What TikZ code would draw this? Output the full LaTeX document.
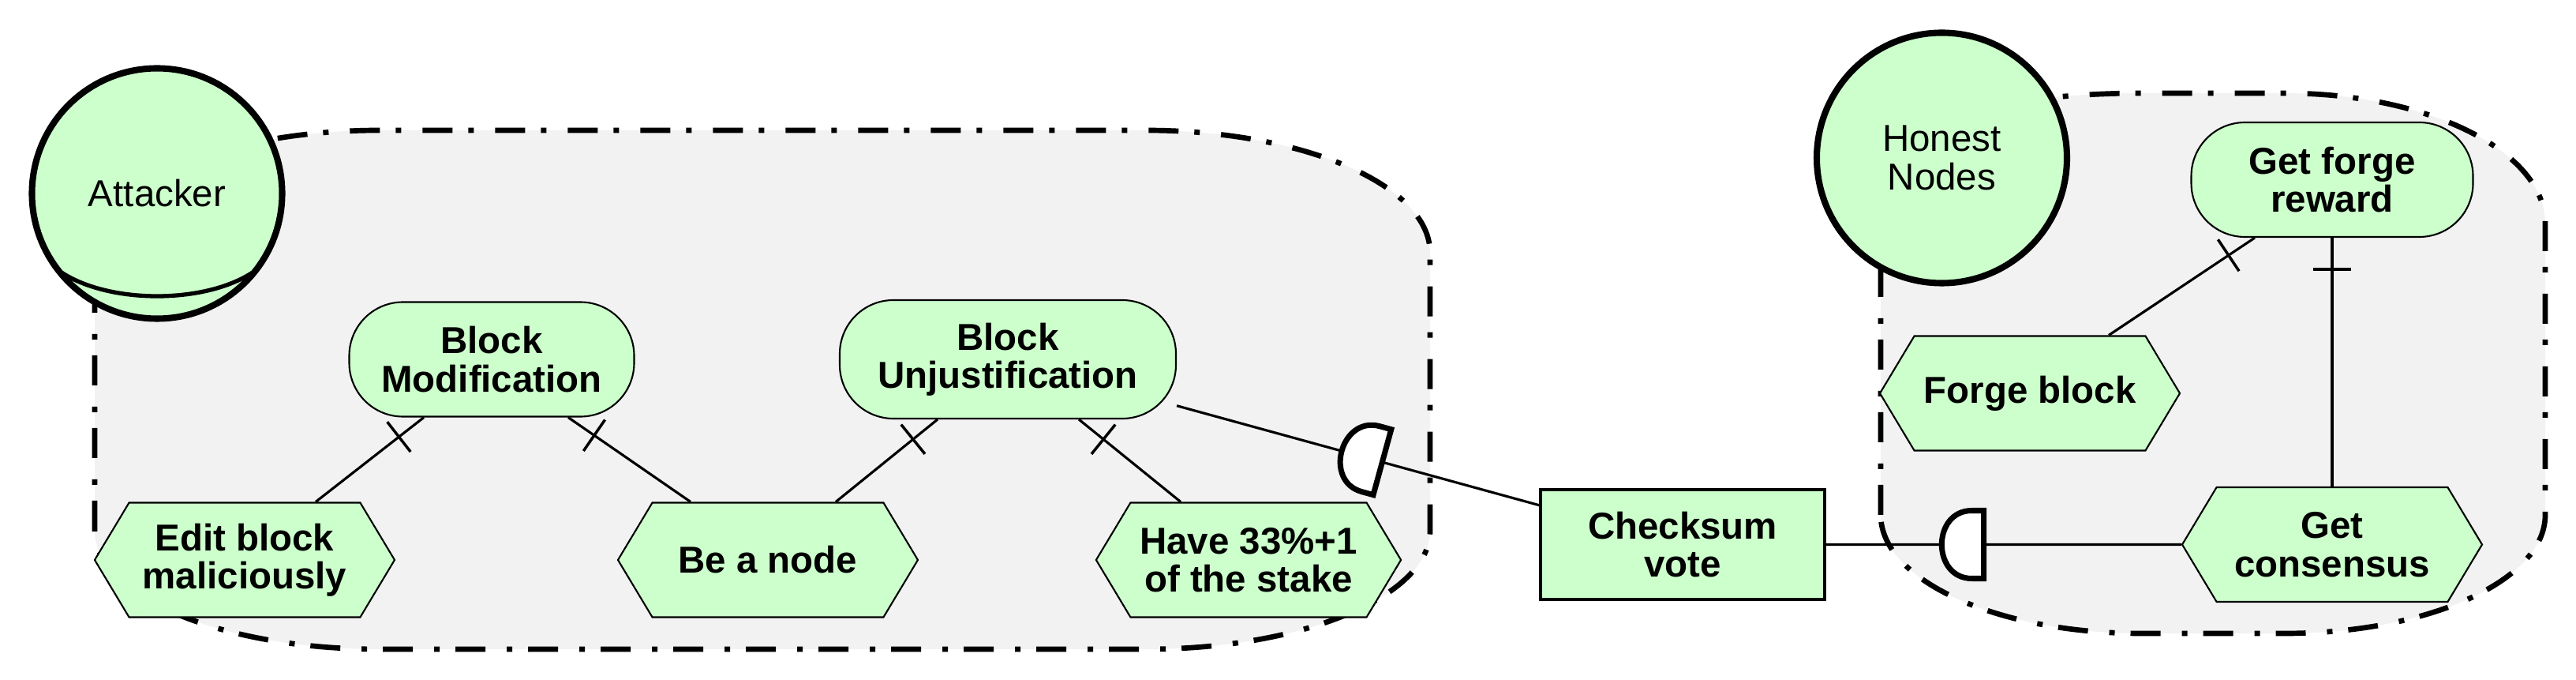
\documentclass[tikz,border=0pt]{standalone}
\usepackage{fontspec}
\setmainfont{Liberation Sans}
\usetikzlibrary{shapes.symbols, decorations.markings}

\definecolor{goalgreen}{RGB}{204,255,204}
\definecolor{zonegray}{RGB}{242,242,242}

\begin{document}
\begin{tikzpicture}[node distance=2.54cm]
\useasboundingbox (0,0) rectangle (32.64,8.6);

% Define block styles
\tikzstyle{goal} = [rectangle, draw, line width=0.6pt, fill=goalgreen, rounded corners=0.68cm, text centered, align=center, font=\bfseries\fontsize{13.5}{13.8}\selectfont, minimum height=1.45cm]
\tikzstyle{task} = [signal, signal to=east and west, signal pointer angle=118, draw, line width=0.6pt, fill=goalgreen, text centered, align=center, font=\bfseries\fontsize{13.5}{13.8}\selectfont, minimum width=3.8cm, minimum height=1.45cm]
\tikzstyle{vote} = [rectangle, draw, line width=0.9pt, fill=goalgreen, text centered, align=center, font=\bfseries\fontsize{13.5}{13.8}\selectfont, minimum width=3.6cm, minimum height=1.39cm]
\tikzstyle{agent} = [circle, draw, line width=2.3pt, fill=goalgreen, align=center, font=\fontsize{13.5}{13.8}\selectfont, minimum size=3.17cm]
\tikzstyle{zone} = [fill=zonegray, line width=1.9pt, dash pattern=on 0.38cm off 0.2cm on 0.07cm off 0.27cm]
\tikzstyle{link} = [line width=0.9pt]
\tikzstyle{refine} = [link, decoration={markings, mark=at position 0.4cm with {\draw[line width=1pt] (0,-0.24) -- (0,0.24);}}, postaction={decorate}]
\tikzset{andlink/.style={link, decoration={markings, mark=at position #1 with {\draw[line width=2pt, fill=white] (0,-0.43) -- (0,0.43) -- (-0.15,0.43) .. controls (-0.66,0.43) and (-0.66,-0.43) .. (-0.15,-0.43) -- cycle;}}, postaction={decorate}}}

% Boundaries
\draw[zone] (1.2,1.88) -- (1.2,5.4) arc[start angle=180, end angle=90, x radius=3.6, y radius=1.55] -- (14.52,6.95) arc[start angle=90, end angle=0, x radius=3.6, y radius=1.55] -- (18.12,1.88) arc[start angle=0, end angle=-90, x radius=3.6, y radius=1.5] -- (4.8,0.38) arc[start angle=270, end angle=180, x radius=3.6, y radius=1.5] -- cycle;
\draw[zone] (23.83,2.08) -- (23.83,6.52) arc[start angle=180, end angle=90, x radius=3.3, y radius=0.9] -- (28.95,7.42) arc[start angle=90, end angle=0, x radius=3.3, y radius=1.65] -- (32.25,2.08) arc[start angle=0, end angle=-90, x radius=3.3, y radius=1.5] -- (27.13,0.58) arc[start angle=270, end angle=180, x radius=3.3, y radius=1.5] -- cycle;

% Nodes
\node (bm) [goal, minimum width=3.61cm] at (6.23,4.05) {Block\\Modification};
\node (edit) [task, below of=bm, xshift=-3.13cm] {Edit block\\maliciously};
\node (bnode) [task, below of=bm, xshift=3.5cm] {Be a node};
\node (bu) [goal, minimum width=4.26cm, minimum height=1.5cm, right of=bm, xshift=4cm] {Block\\Unjustification};
\node (have) [task, below of=bu, xshift=3.05cm] {Have 33\%+1\\of the stake};
\node (chk) [vote, right of=have, xshift=2.96cm, yshift=0.195cm] {Checksum\\vote};
\node (cons) [task, right of=chk, xshift=5.69cm] {Get\\consensus};
\node (gfr) [goal, minimum width=3.57cm, above of=cons, yshift=2.08cm] {Get forge\\reward};
\node (forge) [task, below of=gfr, xshift=-3.83cm, yshift=-0.165cm] {Forge block};
\node (att) [agent, above of=edit, xshift=-1.11cm, yshift=2.1cm] {Attacker};
\node (hon) [agent, above of=forge, xshift=-1.115cm, yshift=0.44cm] {Honest\\Nodes};
\draw[line width=1.5pt] ([shift={(-1.21,-1.0)}]att.center) .. controls ([shift={(-0.6,-1.4)}]att.center) and ([shift={(0.6,-1.4)}]att.center) .. ([shift={(1.21,-1.0)}]att.center);

% Links
\draw[refine] ([xshift=-0.86cm]bm.south) -- ([xshift=0.9cm]edit.north);
\draw[refine] ([xshift=0.97cm]bm.south) -- ([xshift=-0.98cm]bnode.north);
\draw[refine] ([xshift=-0.89cm]bu.south) -- ([xshift=0.86cm]bnode.north);
\draw[refine] ([xshift=0.9cm]bu.south) -- ([xshift=-0.86cm]have.north);
\draw[refine] ([xshift=-0.98cm]gfr.south) -- ([xshift=1cm]forge.north);
\draw[refine] (gfr.south) -- (cons.north);
\draw[andlink=2.7cm] (bu) -- (chk);
\draw[andlink=2.0cm] (chk) -- (cons);

\end{tikzpicture}
\end{document}
